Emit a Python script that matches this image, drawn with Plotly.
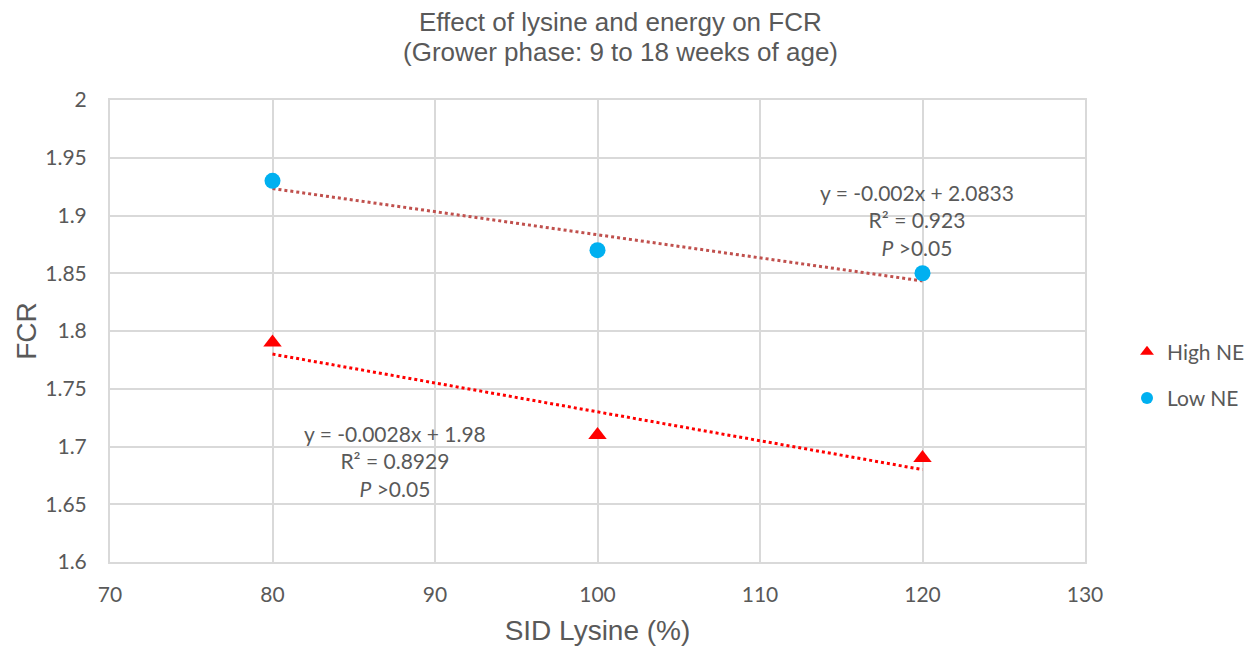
import numpy as np
import plotly.graph_objects as go

lysine = [80, 100, 120]
high_ne = [1.79, 1.71, 1.69]
low_ne = [1.93, 1.87, 1.85]

high_label = ["y = -0.0028x + 1.98", "R\u00b2 = 0.8929", "<i>P</i> >0.05"]
low_label = ["y = -0.002x + 2.0833", "R\u00b2 = 0.923", "<i>P</i> >0.05"]
title_lines = ["Effect of lysine and energy on FCR", "(Grower phase: 9 to 18 weeks of age)"]

txt = "#595959"
grid = "#d9d9d9"

L, R, T, B = 110, 165, 100, 84
PW, PH = 1250 - L - R, 646 - T - B

fig = go.Figure()

def trend(x, y):
    k, b = np.polyfit(x, y, 1)
    xs = np.array([min(x), max(x)], dtype=float)
    return xs, k * xs + b

hx, hy = trend(lysine, high_ne)
lx, ly = trend(lysine, low_ne)

fig.add_trace(go.Scatter(x=hx, y=hy, mode="lines", showlegend=False,
                         line=dict(color="#FF0000", width=3, dash="dot"), hoverinfo="skip"))
fig.add_trace(go.Scatter(x=lx, y=ly, mode="lines", showlegend=False,
                         line=dict(color="#C0504D", width=3, dash="dot"), hoverinfo="skip"))

fig.add_trace(go.Scatter(x=lysine, y=high_ne, mode="markers", name="High NE", legendgroup="h",
                         marker=dict(symbol="triangle-up", size=16, color="#FF0000")))
fig.add_trace(go.Scatter(x=lysine, y=low_ne, mode="markers", name="Low NE", legendgroup="l",
                         marker=dict(symbol="circle", size=16, color="#00B0F0")))

ann_font = dict(family="Lato", size=21, color=txt)
fig.add_annotation(x=(917 - L) / PW, y=(T + PH - 220) / PH, xref="paper", yref="paper",
                   text="<br>".join(low_label), showarrow=False, font=ann_font,
                   align="center", xanchor="center", yanchor="middle")
fig.add_annotation(x=(395 - L) / PW, y=(T + PH - 461) / PH, xref="paper", yref="paper",
                   text="<br>".join(high_label), showarrow=False, font=ann_font,
                   align="center", xanchor="center", yanchor="middle")
for line, ypx in zip(title_lines, [22, 52]):
    fig.add_annotation(x=(620 - L) / PW, y=(T + PH - ypx) / PH, xref="paper", yref="paper",
                       text=line, showarrow=False,
                       font=dict(family="Liberation Sans", size=26, color=txt),
                       align="center", xanchor="center", yanchor="middle")

fig.update_layout(
    width=1250, height=646,
    paper_bgcolor="white", plot_bgcolor="white",
    margin=dict(l=L, r=R, t=T, b=B, autoexpand=False),
    legend=dict(x=(1127 - L) / PW, y=(T + PH - 375) / PH, xanchor="left", yanchor="middle",
                font=dict(family="Lato", size=21, color=txt),
                itemsizing="constant", tracegroupgap=16, itemwidth=30),
    xaxis=dict(range=[70, 130], dtick=10, showgrid=True, gridcolor=grid, gridwidth=2,
               zeroline=False, showline=True, linecolor=grid, linewidth=2, mirror=True,
               automargin=False,
               ticks="", ticklabelstandoff=13, tickfont=dict(family="Lato", size=21, color=txt),
               title=dict(text="SID Lysine (%)", font=dict(family="Liberation Sans", size=28, color=txt),
                          standoff=16)),
    yaxis=dict(range=[1.6, 2.0], dtick=0.05, showgrid=True, gridcolor=grid, gridwidth=2,
               zeroline=False, showline=True, linecolor=grid, linewidth=2, mirror=True,
               automargin=False,
               ticks="", ticklabelstandoff=17, tickfont=dict(family="Lato", size=21, color=txt),
               tickformat="~r",
               title=dict(text="FCR", font=dict(family="Liberation Sans", size=28, color=txt),
                          standoff=0)),
)

fig.write_html("out.html")
